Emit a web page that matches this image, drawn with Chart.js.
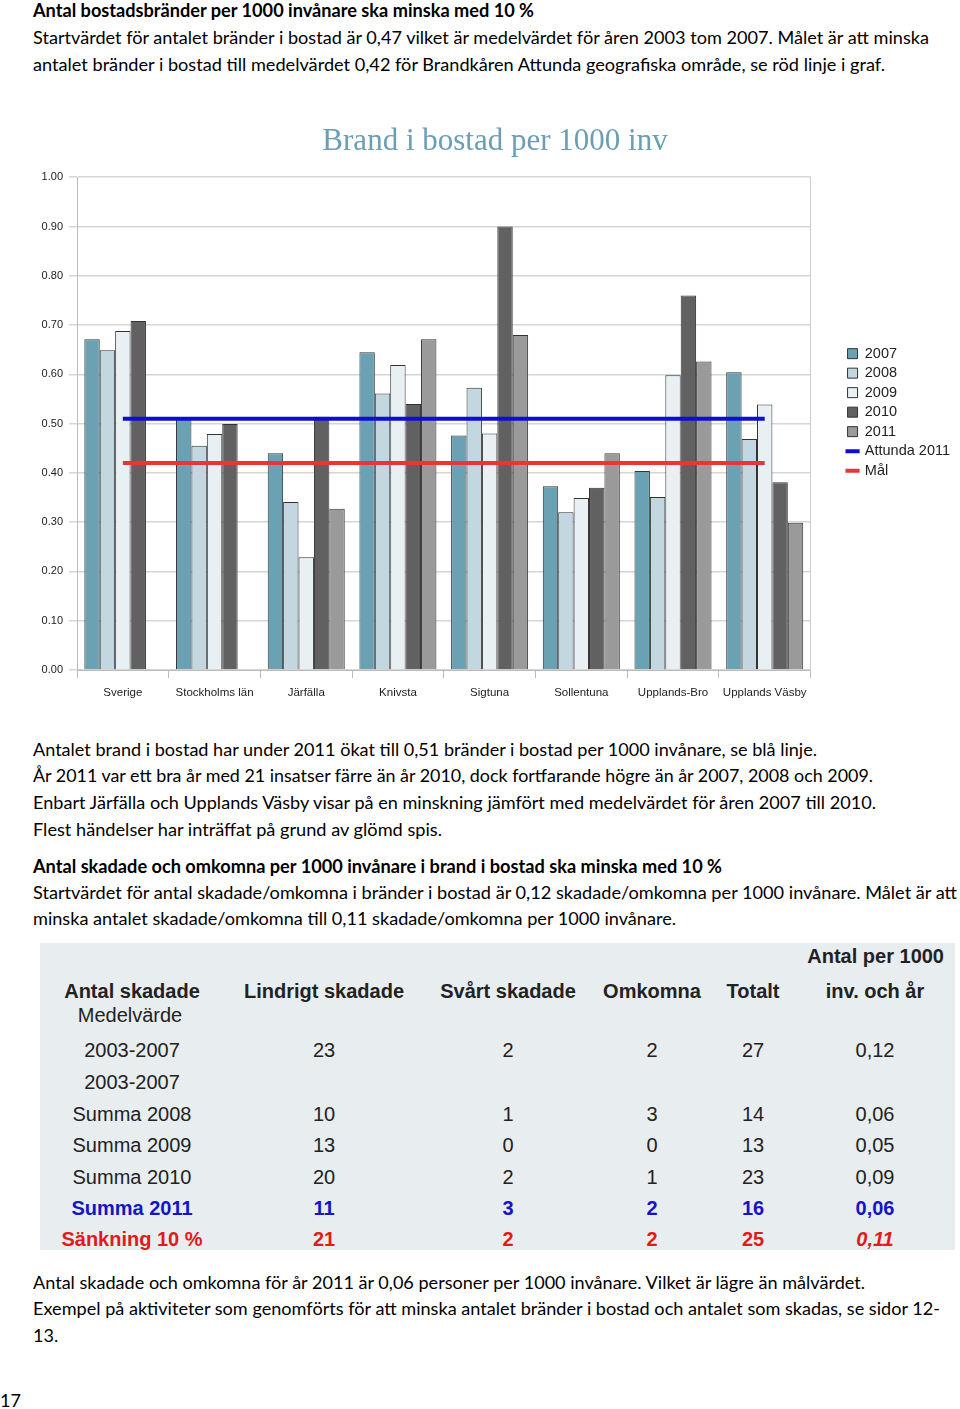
<!DOCTYPE html>
<html>
<head>
<meta charset="utf-8">
<script src="https://cdn.jsdelivr.net/npm/chart.js@4"></script>
<style>
  body { margin: 0; width: 960px; height: 1409px; background: #fff; position: relative; overflow: hidden; font-family: Lato, "Noto Sans", sans-serif; color: #000; }
  .ln { position: absolute; left: 33px; white-space: nowrap; font-size: 18px; line-height: 26px; transform-origin: left center; }
  .b { font-weight: bold; }
  #chartBox { position: absolute; left: 0; top: 100px; width: 960px; height: 610px; }
  #tbl { position: absolute; left: 40px; top: 943px; width: 915px; height: 307px; background: #e8edf0; font-family: "Liberation Sans", Arial, sans-serif; font-size: 20px; color: #222; }
  #tbl div { position: absolute; white-space: nowrap; line-height: 24px; transform: translateX(-50%); }
</style>
</head>
<body>
<div class="ln b" style="top:-3px" data-w="501">Antal bostadsbränder per 1000 invånare ska minska med 10 %</div>
<div class="ln" style="top:24px" data-w="896">Startvärdet för antalet bränder i bostad är 0,47 vilket är medelvärdet för åren 2003 tom 2007. Målet är att minska</div>
<div class="ln" style="top:51px" data-w="852">antalet bränder i bostad till medelvärdet 0,42 för Brandkåren Attunda geografiska område, se röd linje i graf.</div>

<div id="chartBox"><canvas id="c"></canvas></div>

<div class="ln" style="top:736px" data-w="784">Antalet brand i bostad har under 2011 ökat till 0,51 bränder i bostad per 1000 invånare, se blå linje.</div>
<div class="ln" style="top:762px" data-w="840">År 2011 var ett bra år med 21 insatser färre än år 2010, dock fortfarande högre än år 2007, 2008 och 2009.</div>
<div class="ln" style="top:789px" data-w="843">Enbart Järfälla och Upplands Väsby visar på en minskning jämfört med medelvärdet för åren 2007 till 2010.</div>
<div class="ln" style="top:816px" data-w="409">Flest händelser har inträffat på grund av glömd spis.</div>
<div class="ln b" style="top:853px" data-w="689">Antal skadade och omkomna per 1000 invånare i brand i bostad ska minska med 10 %</div>
<div class="ln" style="top:879px" data-w="924">Startvärdet för antal skadade/omkomna i bränder i bostad är 0,12 skadade/omkomna per 1000 invånare. Målet är att</div>
<div class="ln" style="top:905px" data-w="643">minska antalet skadade/omkomna till 0,11 skadade/omkomna per 1000 invånare.</div>

<div id="tbl"></div>

<div class="ln" style="top:1269px" data-w="832">Antal skadade och omkomna för år 2011 är 0,06 personer per 1000 invånare. Vilket är lägre än målvärdet.</div>
<div class="ln" style="top:1295px" data-w="907">Exempel på aktiviteter som genomförts för att minska antalet bränder i bostad och antalet som skadas, se sidor 12-</div>
<div class="ln" style="top:1322px">13.</div>
<div class="ln" style="top:1387px; left:0">17</div>

<script>
// Brand i bostad per 1000 inv
const categories = ['Sverige', 'Stockholms län', 'Järfälla', 'Knivsta', 'Sigtuna', 'Sollentuna', 'Upplands-Bro', 'Upplands Väsby'];
const y2007 = [0.671, 0.51, 0.44, 0.645, 0.476, 0.373, 0.404, 0.604];
const y2008 = [0.649, 0.455, 0.341, 0.561, 0.573, 0.32, 0.351, 0.469];
const y2009 = [0.688, 0.479, 0.229, 0.619, 0.48, 0.349, 0.598, 0.539];
const y2010 = [0.708, 0.499, 0.514, 0.54, 0.90, 0.37, 0.76, 0.381];
const y2011 = [null, null, 0.327, 0.671, 0.68, 0.44, 0.626, 0.299];
const attunda2011 = [0.51, 0.51, 0.51, 0.51, 0.51, 0.51, 0.51, 0.51];
const mal = [0.42, 0.42, 0.42, 0.42, 0.42, 0.42, 0.42, 0.42];
const yTicks = [0, 0.1, 0.2, 0.3, 0.4, 0.5, 0.6, 0.7, 0.8, 0.9, 1.0];

// table under the chart
const tblHead = ['Antal skadade', 'Lindrigt skadade', 'Svårt skadade', 'Omkomna', 'Totalt', 'inv. och år'];
const tblRows = [
  ['2003-2007', '23', '2', '2', '27', '0,12'],
  ['2003-2007', '', '', '', '', ''],
  ['Summa 2008', '10', '1', '3', '14', '0,06'],
  ['Summa 2009', '13', '0', '0', '13', '0,05'],
  ['Summa 2010', '20', '2', '1', '23', '0,09'],
  ['Summa 2011', '11', '3', '2', '16', '0,06'],
  ['Sänkning 10 %', '21', '2', '2', '25', '0,11']
];

const colX = [92, 284, 468, 612, 713, 835];
const rowY = [1050, 1082, 1114, 1145, 1177, 1208, 1239];
const tbl = document.getElementById('tbl');
function cell(txt, x, yc, style) {
  const d = document.createElement('div');
  d.textContent = txt;
  d.style.left = x + 'px';
  d.style.top = (yc - 943 - 12) + 'px';
  if (style) d.style.cssText += style;
  tbl.appendChild(d);
}
cell('Antal per 1000', 835, 956, 'font-weight:bold;left:auto;right:11px;transform:none;');
tblHead.forEach((h, i) => cell(h, colX[i], 991, 'font-weight:bold;'));
cell('Medelvärde', 90, 1015);
tblRows.forEach((r, ri) => {
  r.forEach((v, ci) => {
    let st = '';
    if (ri === 5) st = 'color:#1515c8;font-weight:bold;';
    if (ri === 6) st = 'color:#e01b1b;font-weight:bold;' + (ci === 5 ? 'font-style:italic;' : '');
    cell(v, colX[ci], rowY[ri], st);
  });
});

document.querySelectorAll('[data-w]').forEach(el => {
  const w = el.getBoundingClientRect().width;
  el.style.transform = 'scaleX(' + (el.dataset.w / w) + ')';
});

const bar = (label, data, color) => ({
  type: 'bar', label, data, backgroundColor: color, borderColor: '#333', borderWidth: 1,
  barPercentage: 1, categoryPercentage: 0.84, pointStyle: 'rect', order: 1
});
const line = (label, data, color) => ({
  type: 'line', label, data, borderColor: color, backgroundColor: color, borderWidth: 4,
  pointRadius: 0, pointStyle: 'line', order: 0
});

new Chart(document.getElementById('c'), {
  data: {
    labels: categories,
    datasets: [
      bar('2007', y2007, '#6aa2b3'),
      bar('2008', y2008, '#c2d7df'),
      bar('2009', y2009, '#e9f0f3'),
      bar('2010', y2010, '#616161'),
      bar('2011', y2011, '#9a9a9a'),
      line('Attunda 2011', attunda2011, '#0d0dd6'),
      line('Mål', mal, '#e8353a')
    ]
  },
  options: {
    responsive: true,
    maintainAspectRatio: false,
    animation: false,
    layout: { padding: { left: 30, right: 0, top: 0, bottom: 10 } },
    plugins: {
      title: {
        display: true,
        text: 'Brand i bostad per 1000 inv',
        color: '#6b9db6',
        font: { family: 'Liberation Serif', size: 31, weight: 'normal' },
        padding: { top: 23, bottom: 17 }
      },
      legend: {
        position: 'right',
        align: 'start',
        title: { display: true, text: '', padding: { top: 227, bottom: 0 } },
        labels: {
          usePointStyle: true,
          boxWidth: 10,
          boxHeight: 10,
          padding: 5,
          color: '#222',
          font: { family: 'Liberation Sans', size: 14.5 },
          sort: (a, b) => a.datasetIndex - b.datasetIndex
        }
      },
      tooltip: { enabled: false }
    },
    scales: {
      x: {
        grid: { display: true, drawOnChartArea: false, offset: true, tickLength: 8, color: '#bbb' },
        border: { color: '#bbb' },
        ticks: { color: '#222', font: { family: 'Liberation Sans', size: 11.5 }, maxRotation: 0, padding: 8 },
        afterFit: s => { s.height = 30; }
      },
      y: {
        min: 0, max: 1,
        afterBuildTicks: s => { s.ticks = yTicks.map(v => ({ value: v })); },
        grid: { color: '#d6d6d6', lineWidth: 1.5, tickLength: 8 },
        border: { color: '#bbb' },
        ticks: { color: '#222', font: { family: 'Liberation Sans', size: 11 }, padding: 6, callback: v => v.toFixed(2) },
        afterFit: s => { s.width = 47; }
      },
      y2: {
        position: 'right', min: 0, max: 1,
        grid: { display: false, drawTicks: false },
        ticks: { display: false },
        border: { display: true, color: '#ccc' },
        afterFit: s => { s.width = 32; }
      }
    }
  }
});
</script>
</body>
</html>
